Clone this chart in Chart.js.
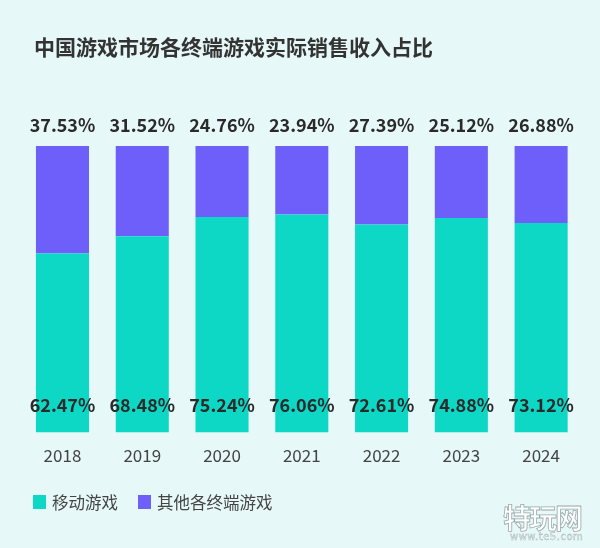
<!DOCTYPE html>
<html>
<head>
<meta charset="utf-8">
<script src="https://cdn.jsdelivr.net/npm/chart.js@4"></script>
<style>
  html, body { margin:0; padding:0; width:600px; height:548px; background:#e6f8f7; overflow:hidden; }
  #wrap { position:relative; width:600px; height:548px; }
  canvas { position:absolute; left:0; top:0; }
  .title { position:absolute; left:34px; top:31px; font-family:"Noto Sans CJK SC"; font-weight:bold; font-size:21px; color:#333; letter-spacing:0; white-space:nowrap; }
  .legend { position:absolute; top:490px; left:33px; font-family:"Noto Sans CJK SC"; font-size:16.5px; color:#444; display:flex; align-items:center; white-space:nowrap; }
  .legend .sw { display:inline-block; width:13px; height:14px; margin-right:6px; }
  .legend .item { display:flex; align-items:center; margin-right:20px; }
  .wm { position:absolute; left:503px; top:497px; font-family:"Noto Sans CJK SC"; font-weight:bold; font-size:28px; color:#fff; -webkit-text-stroke:0.8px #9aa; letter-spacing:-2px; }
  .wm2 { position:absolute; left:510px; top:531px; font-family:"DejaVu Sans"; font-size:10px; color:#fff; -webkit-text-stroke:0.4px #9aa; letter-spacing:0.5px; }
</style>
</head>
<body>
<div id="wrap">
  <canvas id="c" width="600" height="548"></canvas>
  <div class="title">中国游戏市场各终端游戏实际销售收入占比</div>
  <div class="legend">
    <span class="item"><span class="sw" style="background:#0dd8c5"></span>移动游戏</span>
    <span class="item"><span class="sw" style="background:#6e5ffb"></span>其他各终端游戏</span>
  </div>
  <div class="wm">特玩网</div>
  <div class="wm2">www.te5.com</div>
</div>
<script>
const years = ["2018","2019","2020","2021","2022","2023","2024"];
const mobileShare = [62.47, 68.48, 75.24, 76.06, 72.61, 74.88, 73.12];
const otherShare = [37.53, 31.52, 24.76, 23.94, 27.39, 25.12, 26.88];
const seriesNames = ["移动游戏", "其他各终端游戏"];

const labelPlugin = {
  id: 'labels',
  afterDatasetsDraw(chart) {
    const ctx = chart.ctx;
    const yScale = chart.scales.y;
    const m0 = chart.getDatasetMeta(0);
    ctx.save();
    ctx.font = 'bold 18px "Noto Sans CJK SC"';
    ctx.fillStyle = '#2a2a2a';
    ctx.textAlign = 'center';
    ctx.textBaseline = 'middle';
    m0.data.forEach((bar, i) => {
      const x = bar.x;
      ctx.fillText(otherShare[i].toFixed(2) + '%', x, yScale.getPixelForValue(100) - 21);
      ctx.fillText(mobileShare[i].toFixed(2) + '%', x, yScale.getPixelForValue(0) - 27);
    });
    ctx.restore();
  }
};

new Chart(document.getElementById('c'), {
  type: 'bar',
  data: {
    labels: years,
    datasets: [
      { label: seriesNames[0], data: mobileShare, backgroundColor: '#0dd8c5', barPercentage: 0.665, categoryPercentage: 1 },
      { label: seriesNames[1], data: otherShare, backgroundColor: '#6e5ffb', barPercentage: 0.665, categoryPercentage: 1 }
    ]
  },
  options: {
    responsive: false,
    animation: false,
    devicePixelRatio: 1,
    layout: { padding: { left: 22.6, right: 19, top: 146, bottom: 69 } },
    plugins: { legend: { display: false }, tooltip: { enabled: false }, title: { display: false } },
    scales: {
      x: {
        stacked: true,
        grid: { display: false, drawTicks: false },
        border: { display: false },
        ticks: { color: '#444', font: { family: 'Noto Sans CJK SC', size: 17 }, padding: 13 }
      },
      y: { stacked: true, min: 0, max: 100, display: false }
    }
  },
  plugins: [labelPlugin]
});
</script>
</body>
</html>
